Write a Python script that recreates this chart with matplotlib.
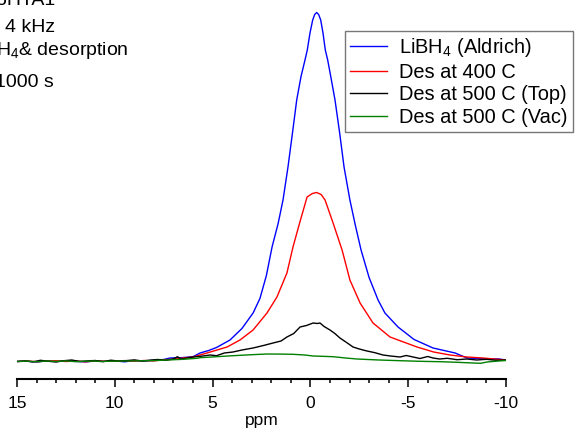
import numpy as np
import matplotlib.pyplot as plt

plt.rcParams['font.family'] = ['Liberation Sans', 'DejaVu Sans']
plt.rcParams['mathtext.fontset'] = 'custom'
plt.rcParams['mathtext.rm'] = 'Liberation Sans'
plt.rcParams['mathtext.it'] = 'Liberation Sans'

# spectra: chemical shift [ppm] and intensity (arb.)
ppm_blue = [15, 14.5, 14, 13.5, 13, 12.5, 12, 11.5, 11, 10.5, 10, 9.5, 9, 8.5, 8, 7.5, 7.18, 6.6, 6.0, 5.64,
            5.2, 4.8, 4.11, 3.5, 2.93, 2.58, 2.25, 1.96, 1.65, 1.40, 1.146, 0.92, 0.70, 0.48, 0.276, 0.159,
            0.021, -0.117, -0.22, -0.32, -0.42, -0.527, -0.644, -0.762, -0.884, -1.05, -1.258, -1.5, -1.72,
            -2.02, -2.3, -2.59, -3.0, -3.46, -3.81, -4.48, -5.3, -6.27, -7.4, -8.0, -8.6, -9.2, -9.6, -10]
int_blue = [0, 0.3, -0.5, 0.6, 0, 0.8, 0.2, -0.4, 0.5, 0.2, 0.6, -0.3, 0.9, 0.4, 1.2, 2.0, 3.5, 3.8, 4.8, 8.5,
            11, 14, 21.5, 33, 48.5, 63, 86, 114.5, 138, 161.5, 194.5, 228, 261.5, 285, 301.5, 311.5,
            328.5, 341.5, 347, 349, 347, 341.5, 328.5, 311.5, 301.5, 284, 261.5, 228, 194.5,
            161.5, 136, 111.5, 84, 61.5, 48.5, 34.5, 22, 13.5, 8.5, 3.5, 3, 2.5, 2.6, 1.5]

ppm_red = [15, 14.5, 14, 13.5, 13, 12.5, 12, 11.5, 11, 10.5, 10, 9.5, 9, 8.5, 8, 7.5, 7.0, 6.5, 6.0, 5.29,
           4.26, 3.60, 2.93, 2.22, 1.71, 1.20, 0.89, 0.53, 0.17, -0.1, -0.32, -0.55, -0.75, -1.16, -1.62,
           -2.02, -2.54, -3.20, -4.07, -5.45, -6.3, -7.14, -8.0, -8.82, -9.4, -10]
int_red = [0, 0.5, -0.2, 0.4, 0.8, 0, 0.5, -0.3, 0.7, 0.2, 0.4, 0.9, 0.3, 1.0, 0.6, 1.8, 2.2, 3.5, 4.5, 8.5,
           14.5, 21.5, 31.5, 48.5, 64.5, 88.5, 114.5, 140, 164.5, 168, 169, 167, 161.5, 138.5, 111.5,
           81.5, 58.5, 38.5, 24.5, 14.5, 9.5, 6.5, 4.5, 3.5, 2.5, 1.5]

ppm_black = [15, 14.6, 14.2, 13.8, 13.4, 13, 12.6, 12.2, 11.8, 11.4, 11, 10.6, 10.2, 9.8, 9.4, 9, 8.6, 8.2,
             7.8, 7.4, 7.0, 6.8, 6.6, 6.3, 6.0, 5.6, 5.13, 4.8, 4.4, 3.96, 3.5, 2.93, 2.4, 1.91, 1.5, 1.20,
             0.85, 0.53, 0.2, -0.14, -0.35, -0.49, -0.7, -1.0, -1.25, -1.51, -1.85, -2.18, -2.5, -2.89,
             -3.3, -3.71, -4.1, -4.58, -4.9, -5.25, -5.6, -6.0, -6.27, -6.6, -7.0, -7.5, -8.0, -8.5, -9.0,
             -9.5, -10]
int_black = [0, 0.6, -0.4, 1.2, 0.2, -0.5, 0.8, 1.5, 0, 0.6, 1.0, -0.2, 1.3, 0.4, 0.9, 1.6, 0.5, 1.4,
             2.0, 1.2, 2.6, 4.8, 2.4, 3.5, 4.5, 5.2, 6.5, 5.8, 8.5, 9.5, 11.5, 13.5, 16, 18.5, 20.5, 24.5,
             28, 34.5, 36, 38.5, 38, 38.5, 35, 31.5, 28, 23.5, 19, 14.5, 12.5, 10.5, 8.8, 6.5, 5.5, 4.5,
             6.0, 4.5, 3.0, 5.0, 3.5, 2.5, 3.2, 1.8, 2.5, 1.5, 2.2, 1.2, 1.5]

ppm_green = [15, 14.5, 14, 13.5, 13, 12.5, 12, 11.5, 11, 10.76, 10, 9, 8, 7.33, 6.5, 5.80, 5.64, 4.8, 3.96,
             3.0, 2.22, 1.5, 0.89, 0.3, -0.14, -0.6, -1.16, -1.8, -2.38, -3.5, -4.58, -5.6, -6.63, -7.5,
             -8.31, -8.7, -9.03, -9.5, -10]
int_green = [0, 0.4, -0.3, 0.5, 0.1, 0.6, -0.2, 0.3, 0.5, 0, 0.4, 0.6, 0.9, 1.5, 2.2, 3.2, 3.8, 4.8, 5.8,
             6.8, 7.5, 7.4, 7.2, 6.5, 5.5, 5.2, 4.8, 3.5, 2.5, 1.5, 0.8, 0.2, -0.2, -0.8, -1.5, -1.8, -0.5,
             0.3, 1.0]

labels = ['LiBH$_4$ (Aldrich)', 'Des at 400 C', 'Des at 500 C (Top)', 'Des at 500 C (Vac)']
colors = ['#0000ff', '#ff0000', '#000000', '#008000']

W, H = 579, 430
fig = plt.figure(figsize=(W / 100, H / 100), dpi=100)
# axes in pixel units: spine at y=379, data from x=17 to 506
ax = fig.add_axes([17 / W, 1 - 379 / H, (506 - 17) / W, 379 / H])

for x, y, c, lab in zip([ppm_blue, ppm_red, ppm_black, ppm_green],
                        [int_blue, int_red, int_black, int_green], colors, labels):
    ax.plot(x, y, color=c, lw=1.0, label=lab)

ax.set_xlim(15, -10)
ax.set_ylim(-17.5, 361.5)
for s in ['top', 'left', 'right']:
    ax.spines[s].set_visible(False)
ax.spines['bottom'].set_linewidth(1.5)
ax.set_yticks([])
ax.set_xticks([15, 10, 5, 0, -5, -10])
ax.set_xticklabels(['15', '10', '5', '0', '-5', '-10'])
ax.set_xticks(np.arange(-10, 16, 1), minor=True)
ax.tick_params(axis='x', which='major', length=6, width=1.1, labelsize=12.5, pad=6)
ax.tick_params(axis='x', which='minor', length=3, width=1.1)
ax.set_xlabel('ppm', fontsize=12.5, labelpad=2)

leg = ax.legend(loc='upper left', bbox_to_anchor=(345 / W, 1 - 31 / H), bbox_transform=fig.transFigure,
                fontsize=14.4, frameon=True, fancybox=False, borderaxespad=0, borderpad=0.25,
                handlelength=1.85, handletextpad=0.6, labelspacing=0.18)
leg.get_frame().set_edgecolor('#555555')
leg.get_frame().set_linewidth(1.0)

# annotation block, clipped by the figure's left/top edge
fig.text(-4 / W, 1 - 5 / H, '6HTA1', fontsize=14, va='baseline')
fig.text(5 / W, 1 - 32 / H, '4 kHz', fontsize=14, va='baseline')
fig.text(-4 / W, 1 - 55 / H, 'H$_4$& desorption', fontsize=14, va='baseline')
fig.text(-5 / W, 1 - 87 / H, '1000 s', fontsize=14, va='baseline')

fig.savefig('out.png', dpi=100)
